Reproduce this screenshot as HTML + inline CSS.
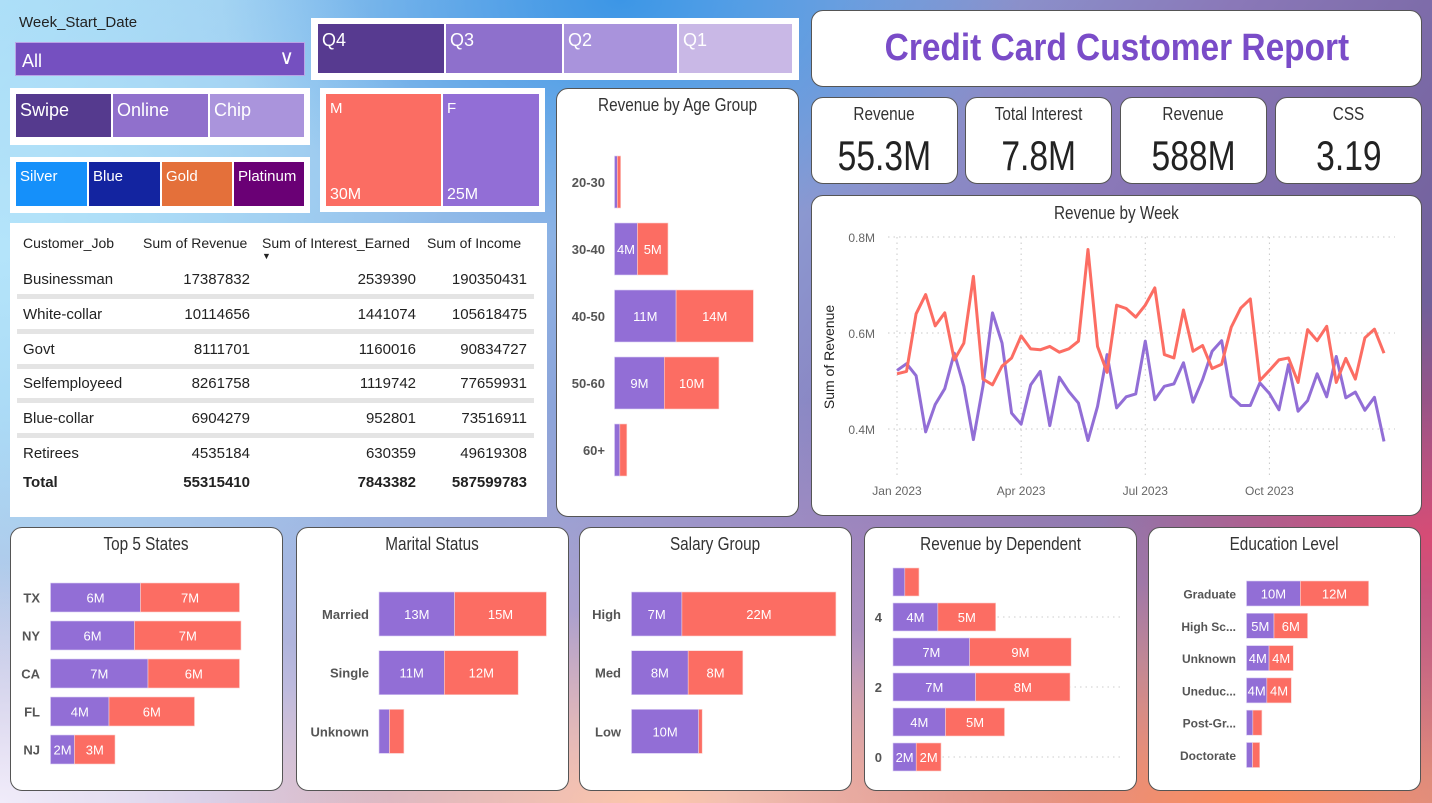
<!DOCTYPE html>
<html><head><meta charset="utf-8">
<style>
*{margin:0;padding:0;box-sizing:border-box}
body{width:1432px;height:803px;overflow:hidden;position:relative;font-family:"Liberation Sans",sans-serif;
background:
radial-gradient(ellipse 480px 340px at 1432px 540px,rgba(230,70,110,0.85),rgba(230,70,110,0) 70%),
radial-gradient(ellipse 700px 300px at 1250px 803px,rgba(255,140,90,0.95),rgba(255,140,90,0) 75%),
radial-gradient(ellipse 600px 260px at 650px 803px,rgba(255,200,170,0.95),rgba(255,200,170,0) 75%),
radial-gradient(ellipse 520px 320px at 0px 803px,rgba(240,236,250,1),rgba(240,236,250,0) 75%),
radial-gradient(ellipse 560px 520px at 0px 250px,rgba(180,228,250,1),rgba(180,228,250,0) 80%),
radial-gradient(ellipse 500px 300px at 620px 0px,rgba(60,150,230,1),rgba(60,150,230,0) 80%),
linear-gradient(180deg,rgba(0,0,0,0) 50%,rgba(240,190,210,0.6) 100%),
linear-gradient(125deg,#a8dcf6 0%,#8cb4e6 35%,#8a78b8 62%,#5a4a80 100%);}
.abs{position:absolute}
.card{position:absolute;background:#fff;border-radius:12px;border:1px solid #555}
.ttl{position:absolute;left:0;right:0;text-align:center;font-size:18px;color:#333}
.tile{position:absolute;color:#fff;font-size:18px;padding:6px 0 0 4px}
.sq{display:inline-block;transform:scaleX(0.85);transform-origin:center}
</style></head><body>

<div class="abs" style="left:19px;top:14px;font-size:15px;color:#222">Week_Start_Date</div>
<div class="abs" style="left:15px;top:42px;width:290px;height:34px;background:#7550c0;border:1px solid #b9a4e6;color:#fff;font-size:18px;padding:8px 0 0 6px">All<span style="position:absolute;right:10px;top:2px;font-size:20px">&#8744;</span></div>

<div class="abs" style="left:311px;top:18px;width:488px;height:62px;background:#fff"></div>
<div class="tile" style="left:318px;top:24px;width:126px;height:49px;background:#573a90">Q4</div>
<div class="tile" style="left:446px;top:24px;width:116px;height:49px;background:#8e70cc">Q3</div>
<div class="tile" style="left:564px;top:24px;width:113px;height:49px;background:#a993dc">Q2</div>
<div class="tile" style="left:679px;top:24px;width:113px;height:49px;background:#c9b8e6">Q1</div>

<div class="abs" style="left:10px;top:88px;width:300px;height:57px;background:#fff"></div>
<div class="tile" style="left:16px;top:94px;width:95px;height:43px;background:#553a8e">Swipe</div>
<div class="tile" style="left:113px;top:94px;width:95px;height:43px;background:#9070cc">Online</div>
<div class="tile" style="left:210px;top:94px;width:94px;height:43px;background:#aa94dc">Chip</div>

<div class="abs" style="left:10px;top:157px;width:300px;height:56px;background:#fff"></div>
<div class="tile" style="left:16px;top:162px;width:71px;height:44px;background:#1590fa;font-size:15px">Silver</div>
<div class="tile" style="left:89px;top:162px;width:71px;height:44px;background:#1324a0;font-size:15px">Blue</div>
<div class="tile" style="left:162px;top:162px;width:70px;height:44px;background:#e4703a;font-size:15px">Gold</div>
<div class="tile" style="left:234px;top:162px;width:70px;height:44px;background:#6a0075;font-size:15px">Platinum</div>

<div class="abs" style="left:320px;top:88px;width:225px;height:124px;background:#fff"></div>
<div class="tile" style="left:326px;top:94px;width:115px;height:112px;background:#fb6d63;font-size:15px">M<span style="position:absolute;left:4px;bottom:2px;font-size:16px">30M</span></div>
<div class="tile" style="left:443px;top:94px;width:96px;height:112px;background:#926ed6;font-size:15px">F<span style="position:absolute;left:4px;bottom:2px;font-size:16px">25M</span></div>

<div class="card" style="left:811px;top:10px;width:611px;height:77px;display:flex;align-items:center;justify-content:center">
<span style="font-size:38px;font-weight:bold;color:#7a4cc8;display:inline-block;transform:scaleX(0.88)">Credit Card Customer Report</span></div>

<div class="card" style="left:811px;top:97px;width:147px;height:87px"><div class="ttl" style="top:6px"><span class="sq">Revenue</span></div><div class="ttl" style="top:34px;font-size:42px;color:#222"><span class="sq" style="transform:scaleX(0.8)">55.3M</span></div></div>
<div class="card" style="left:965px;top:97px;width:147px;height:87px"><div class="ttl" style="top:6px"><span class="sq">Total Interest</span></div><div class="ttl" style="top:34px;font-size:42px;color:#222"><span class="sq" style="transform:scaleX(0.8)">7.8M</span></div></div>
<div class="card" style="left:1120px;top:97px;width:147px;height:87px"><div class="ttl" style="top:6px"><span class="sq">Revenue</span></div><div class="ttl" style="top:34px;font-size:42px;color:#222"><span class="sq" style="transform:scaleX(0.8)">588M</span></div></div>
<div class="card" style="left:1275px;top:97px;width:147px;height:87px"><div class="ttl" style="top:6px"><span class="sq">CSS</span></div><div class="ttl" style="top:34px;font-size:42px;color:#222"><span class="sq" style="transform:scaleX(0.8)">3.19</span></div></div>

<div class="card" style="left:811px;top:195px;width:611px;height:321px"><div class="ttl" style="top:7px"><span class="sq">Revenue by Week</span></div></div>

<div class="abs" style="left:10px;top:223px;width:537px;height:294px;background:#fff;font-size:15px;color:#222">
<div class="abs" style="left:13px;top:12px;font-size:14px">Customer_Job</div>
<div class="abs" style="left:133px;top:12px;font-size:14px">Sum of Revenue</div>
<div class="abs" style="left:252px;top:12px;font-size:14px">Sum of Interest_Earned<div style="font-size:9px">&#9660;</div></div>
<div class="abs" style="left:417px;top:12px;font-size:14px">Sum of Income</div>
<div id="rows"></div>
</div>

<div class="card" style="left:556px;top:88px;width:243px;height:429px"><div class="ttl" style="top:6px"><span class="sq">Revenue by Age Group</span></div></div>
<div class="card" style="left:10px;top:527px;width:273px;height:264px"><div class="ttl" style="top:6px"><span class="sq">Top 5 States</span></div></div>
<div class="card" style="left:296px;top:527px;width:273px;height:264px"><div class="ttl" style="top:6px"><span class="sq">Marital Status</span></div></div>
<div class="card" style="left:579px;top:527px;width:273px;height:264px"><div class="ttl" style="top:6px"><span class="sq">Salary Group</span></div></div>
<div class="card" style="left:864px;top:527px;width:273px;height:264px"><div class="ttl" style="top:6px"><span class="sq">Revenue by Dependent</span></div></div>
<div class="card" style="left:1148px;top:527px;width:273px;height:264px"><div class="ttl" style="top:6px"><span class="sq">Education Level</span></div></div>

<svg id="chart" class="abs" style="left:0;top:0" width="1432" height="803" xmlns="http://www.w3.org/2000/svg"></svg>

<script>
// Table data
const jobs=["Businessman","White-collar","Govt","Selfemployeed","Blue-collar","Retirees"];
const jobRevenue=[17387832,10114656,8111701,8261758,6904279,4535184];
const jobInterest=[2539390,1441074,1160016,1119742,952801,630359];
const jobIncome=[190350431,105618475,90834727,77659931,73516911,49619308];
const totals=[55315410,7843382,587599783];

// Line chart data (weekly revenue, millions)
const weeks=52;
const redSeries=[0.515,0.520,0.640,0.680,0.615,0.642,0.544,0.579,0.718,0.504,0.492,0.531,0.548,0.594,0.567,0.565,0.572,0.560,0.567,0.583,0.774,0.572,0.518,0.658,0.651,0.633,0.658,0.694,0.555,0.548,0.648,0.562,0.574,0.526,0.535,0.612,0.652,0.671,0.501,0.522,0.544,0.548,0.497,0.607,0.584,0.614,0.497,0.547,0.504,0.590,0.608,0.558];
const purpleSeries=[0.522,0.536,0.511,0.394,0.451,0.484,0.558,0.489,0.378,0.489,0.642,0.579,0.433,0.410,0.492,0.520,0.407,0.508,0.478,0.454,0.376,0.447,0.555,0.444,0.467,0.473,0.583,0.461,0.489,0.494,0.538,0.456,0.503,0.562,0.584,0.468,0.449,0.449,0.496,0.474,0.440,0.534,0.437,0.459,0.515,0.467,0.551,0.465,0.477,0.439,0.466,0.374];
const yTicks=[0.4,0.6,0.8];
const yTickLabels=["0.4M","0.6M","0.8M"];
const xTickWeeks=[0,13,26,39];
const xTickLabels=["Jan 2023","Apr 2023","Jul 2023","Oct 2023"];

// Bar chart data (millions): purple = F, red = M
const ageCats=["20-30","30-40","40-50","50-60","60+"];
const agePurple=[0.5,4.1,11.0,8.9,0.95];
const ageRed=[0.6,5.45,13.8,9.75,1.25];
const stateCats=["TX","NY","CA","FL","NJ"];
const statePurple=[6.0,5.6,6.5,3.9,1.6];
const stateRed=[6.6,7.1,6.1,5.7,2.7];
const maritalCats=["Married","Single","Unknown"];
const maritalPurple=[12.6,10.9,1.75];
const maritalRed=[15.3,12.3,2.4];
const salaryCats=["High","Med","Low"];
const salaryPurple=[7.2,8.1,9.6];
const salaryRed=[22.0,7.8,0.5];
const depCats=["5","4","3","2","1","0"];
const depTickLabels=["","4","","2","","0"];
const depPurple=[1.0,3.8,6.5,7.0,4.45,1.97];
const depRed=[1.2,4.9,8.6,8.0,5.0,2.1];
const eduCats=["Graduate","High Sc...","Unknown","Uneduc...","Post-Gr...","Doctorate"];
const eduPurple=[9.8,5.0,4.1,3.7,1.15,1.1];
const eduRed=[12.4,6.1,4.4,4.45,1.65,1.3];

const NS="http://www.w3.org/2000/svg";
const svg=document.getElementById('chart');
const PURPLE="#926ed6", RED="#fc6d63";
function mk(tag,attrs,parent){const e=document.createElementNS(NS,tag);for(const k in attrs)e.setAttribute(k,attrs[k]);(parent||svg).appendChild(e);return e;}
function fmt(n){return String(n);}

// table rows
const rows=document.getElementById('rows');
const rowY=[48,83,118,152,187,222];
jobs.forEach((j,i)=>{
  const r=document.createElement('div');
  
  
  r.style.cssText='position:absolute;left:0;top:'+rowY[i]+'px;width:537px;height:20px;font-size:15px';
  r.innerHTML='<span style="position:absolute;left:13px">'+j+'</span><span style="position:absolute;right:297px">'+fmt(jobRevenue[i])+'</span><span style="position:absolute;right:131px">'+fmt(jobInterest[i])+'</span><span style="position:absolute;right:20px">'+fmt(jobIncome[i])+'</span>';
  rows.appendChild(r);
  if(i<5){const s=document.createElement('div');
    
    
    s.style.cssText='position:absolute;left:7px;top:'+(rowY[i]+23)+'px;width:517px;height:5px;background:#e4e4e4';rows.appendChild(s);}
});
const tr=document.createElement('div');


tr.style.cssText='position:absolute;left:0;top:251px;width:537px;font-weight:bold;font-size:15px';
tr.innerHTML='<span style="position:absolute;left:13px">Total</span><span style="position:absolute;right:297px">'+fmt(totals[0])+'</span><span style="position:absolute;right:131px">'+fmt(totals[1])+'</span><span style="position:absolute;right:20px">'+fmt(totals[2])+'</span>';
rows.appendChild(tr);

// line chart
const lx=i=>897+i*(487/(weeks-1));
const ly=v=>429-(v-0.4)*480;
yTicks.forEach((t,i)=>{
  const g=mk('line',{x1:888,x2:1395,y1:ly(t),y2:ly(t),stroke:'#c8c8c8','stroke-dasharray':'1.5 4'});
  
  
  const tx=mk('text',{x:875,y:ly(t)+5,'text-anchor':'end','font-size':12,fill:'#666'});
  tx.textContent=yTickLabels[i];
  
  
});
xTickWeeks.forEach((w,i)=>{
  const g=mk('line',{x1:lx(w),x2:lx(w),y1:237,y2:476,stroke:'#c8c8c8','stroke-dasharray':'1.5 4'});
  
  
  const tx=mk('text',{x:lx(w),y:495,'text-anchor':'middle','font-size':12,fill:'#666'});
  tx.textContent=xTickLabels[i];
  
  
});
const yt=mk('text',{x:0,y:0,transform:'translate(834,357) rotate(-90)','text-anchor':'middle','font-size':14,fill:'#222'});
yt.textContent='Sum of Revenue';


function series(data,color,name){
  const p=mk('polyline',{points:data.map((v,i)=>lx(i)+','+ly(v)).join(' '),fill:'none',stroke:color,'stroke-width':3,'stroke-linejoin':'round'});
  
  
}
series(purpleSeries,PURPLE,'female-revenue-line');
series(redSeries,RED,'male-revenue-line');

// stacked bars
function bars(cats,pv,rv,o){
  cats.forEach((c,i)=>{
    const y=o.y0+i*o.pitch, wp=pv[i]*o.scale, wr=rv[i]*o.scale;
    const a=mk('rect',{x:o.x0,y:y,width:wp,height:o.h,fill:PURPLE,stroke:'#ddd0f4','stroke-width':0.6});
    
    
    const b=mk('rect',{x:o.x0+wp,y:y,width:wr,height:o.h,fill:RED,stroke:'#fbd0cc','stroke-width':0.6});
    
    
    const lab=o.tick?o.tick[i]:c;
    if(lab){const t=mk('text',{x:o.lx,y:y+o.h/2+5,'text-anchor':'end','font-size':o.fs||13,'font-weight':'bold',fill:'#555'});
      t.textContent=lab;
      
      }
    [[pv[i],o.x0,wp],[rv[i],o.x0+wp,wr]].forEach(([v,x,w])=>{
      if(w<18)return;
      const t=mk('text',{x:x+w/2,y:y+o.h/2+5,'text-anchor':'middle','font-size':13,fill:'#fff'});
      t.textContent=Math.round(v)+'M';
      
      
    });
  });
}
bars(ageCats,agePurple,ageRed,{x0:614.5,scale:5.6,y0:156,pitch:67,h:52,lx:605});
bars(stateCats,statePurple,stateRed,{x0:50.5,scale:15,y0:583,pitch:38,h:29,lx:40});
bars(maritalCats,maritalPurple,maritalRed,{x0:379,scale:6,y0:592,pitch:58.7,h:44,lx:369});
bars(salaryCats,salaryPurple,salaryRed,{x0:631.5,scale:7,y0:592,pitch:58.7,h:44,lx:621});
[1,3,5].forEach(i=>{
  const g=mk('line',{x1:893,x2:1124,y1:568+i*35+14,y2:568+i*35+14,stroke:'#ccc','stroke-dasharray':'1.5 4'});
  
  
});
bars(depCats,depPurple,depRed,{x0:893,scale:11.8,y0:568,pitch:35,h:28,lx:882,tick:depTickLabels});
bars(eduCats,eduPurple,eduRed,{x0:1246.5,scale:5.5,y0:581,pitch:32.3,h:25,lx:1236,fs:12});
</script>
</body></html>
